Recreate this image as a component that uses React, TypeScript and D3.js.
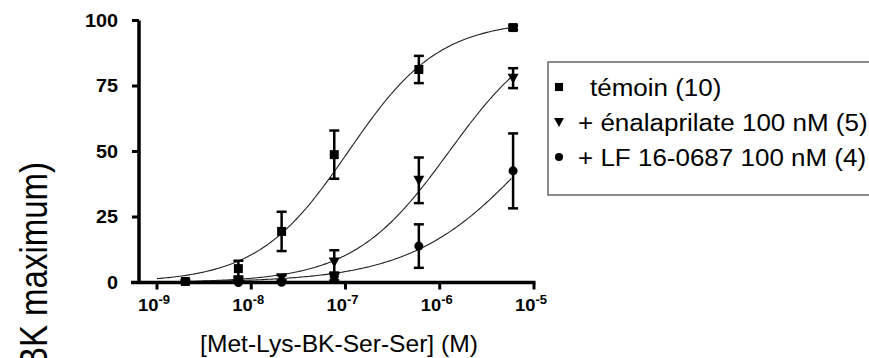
import React from "react";
import * as d3 from "d3";

// concentrations (M) and responses (% BK maximum)
const concTemoin = [2e-9, 7.3e-9, 2.1e-8, 7.6e-8, 6e-7, 6e-6];
const meanTemoin = [0.4, 5.3, 19.5, 48.8, 81.3, 97.3];
const errTemoin = [0.5, 3, 7.5, 9.2, 5.2, 0.8];

const concEnal = [7.3e-9, 2.1e-8, 7.6e-8, 6e-7, 6e-6];
const meanEnal = [0.3, 1.8, 7.8, 39, 78];
const errEnal = [0.5, 1, 4.5, 8.7, 3.8];

const concLF = [7.3e-9, 2.1e-8, 7.6e-8, 6e-7, 6e-6];
const meanLF = [0, 0.1, 2.3, 13.9, 42.6];
const errLF = [0.5, 0.5, 1.5, 8.3, 14.3];

// sigmoid fit parameters: [top, logEC50, hill slope]
const fitTemoin = [100, -6.97, 0.9];
const fitEnal = [100, -5.9, 0.85];
const fitLF = [100, -4.97, 0.67];

const legendLabels = ["témoin (10)", "+ énalaprilate 100 nM (5)", "+ LF 16-0687 100 nM (4)"];
const yTicks = [0, 25, 50, 75, 100];
const xTickExps = [-9, -8, -7, -6, -5];

const FONT = "'Liberation Sans', Arial, sans-serif";

const x = d3.scaleLog().domain([Math.pow(10, -9.191), 1e-5]).range([139, 534]);
const y = d3.scaleLinear().domain([0, 100]).range([282.5, 20.5]);

const squarePath = d3.symbol(d3.symbolSquare, 81)()!;
const circlePath = d3.symbol(d3.symbolCircle, 64)()!;
const trianglePath = "M-5.5,-4.5L5.5,-4.5L0,5.5Z";

const series = [
  { conc: concTemoin, mean: meanTemoin, err: errTemoin, fit: fitTemoin, marker: squarePath },
  { conc: concEnal, mean: meanEnal, err: errEnal, fit: fitEnal, marker: trianglePath },
  { conc: concLF, mean: meanLF, err: errLF, fit: fitLF, marker: circlePath },
];

const hill = (fit: number[], logc: number) => fit[0] / (1 + Math.pow(10, fit[2] * (fit[1] - logc)));

const curve = (fit: number[]) => {
  const pts = d3.range(-9, -5.22, 0.02);
  return d3
    .line<number>()
    .x((l) => x(Math.pow(10, l)))
    .y((l) => y(hill(fit, l)))(pts)!;
};

export default function App() {
  return (
    <svg
      width={869}
      height={358}
      style={{ position: "absolute", left: 0, top: 0, background: "#fff" }}
      fontFamily={FONT}
    >
      {/* fitted curves */}
      {series.map((s, i) => (
        <path key={"c" + i} d={curve(s.fit)} fill="none" stroke="#222" strokeWidth={1.1} />
      ))}

      {/* error bars and markers */}
      {series.map((s, i) => (
        <g key={"s" + i}>
          {s.conc.map((c, j) => {
            const cx = x(c);
            const top = y(s.mean[j] + s.err[j]);
            const bot = y(Math.max(0, s.mean[j] - s.err[j]));
            return (
              <g key={j}>
                <line x1={cx} x2={cx} y1={top} y2={bot} stroke="#000" strokeWidth={2.5} />
                <line x1={cx - 5} x2={cx + 5} y1={top} y2={top} stroke="#000" strokeWidth={2.5} />
                <line x1={cx - 5} x2={cx + 5} y1={bot} y2={bot} stroke="#000" strokeWidth={2.5} />
                <path d={s.marker} transform={`translate(${cx},${y(s.mean[j])})`} fill="#000" />
              </g>
            );
          })}
        </g>
      ))}

      {/* axes */}
      <line x1={139} x2={139} y1={y(100)} y2={y(0) + 1.5} stroke="#000" strokeWidth={3.5} />
      <line x1={131} x2={535.5} y1={y(0)} y2={y(0)} stroke="#000" strokeWidth={3.5} />
      {yTicks.map((t) => (
        <g key={t}>
          <line x1={132} x2={139} y1={y(t)} y2={y(t)} stroke="#000" strokeWidth={3} />
          <g transform={`translate(118,${y(t)}) scale(1.1,1)`}>
            <text dy="0.36em" textAnchor="end" fontSize={18} fontWeight="bold">
              {t}
            </text>
          </g>
        </g>
      ))}
      {xTickExps.map((e) => {
        const tx = x(Math.pow(10, e));
        return (
          <g key={e}>
            <line x1={tx} x2={tx} y1={y(0)} y2={y(0) + 7} stroke="#000" strokeWidth={3} />
            <g transform={`translate(${tx - 3},310.5) scale(1.08,1)`}>
              <text textAnchor="middle" fontSize={17} fontWeight="bold">
                10
                <tspan fontSize={12} dy={-7}>
                  {e}
                </tspan>
              </text>
            </g>
          </g>
        );
      })}

      {/* axis titles */}
      <g transform="translate(339,352) scale(1.07,1)">
        <text textAnchor="middle" fontSize={23}>
          [Met-Lys-BK-Ser-Ser] (M)
        </text>
      </g>
      <g transform="translate(47,162) scale(1.15,1) rotate(-90)">
        <text textAnchor="end" fontSize={33}>
          (% BK maximum)
        </text>
      </g>

      {/* legend */}
      <rect x={548} y={62} width={340} height={133} fill="#fff" stroke="#666" strokeWidth={1.5} />
      {series.map((s, i) => (
        <g key={"l" + i}>
          <path
            d={s.marker}
            transform={`translate(559,${87 + i * 35}) scale(0.9)`}
            fill="#000"
          />
          <g transform={`translate(${i === 0 ? 590 : 578},${95.5 + i * 35}) scale(1.13,1)`}>
            <text fontSize={23}>{legendLabels[i]}</text>
          </g>
        </g>
      ))}
    </svg>
  );
}
